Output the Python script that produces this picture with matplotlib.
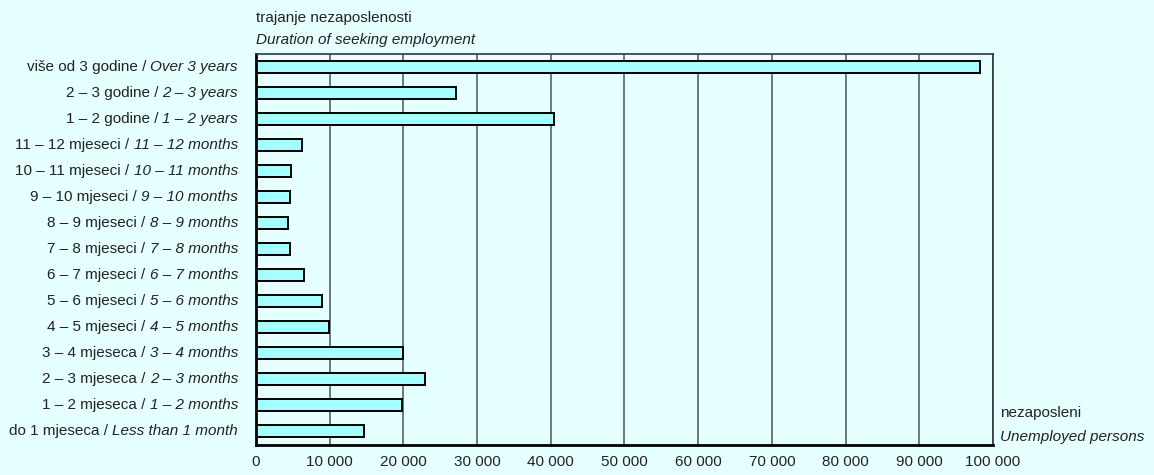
import matplotlib
matplotlib.use('Agg')
import matplotlib.pyplot as plt

# categories (top to bottom), Croatian / English
labels_hr = ['više od 3 godine', '2 – 3 godine', '1 – 2 godine',
             '11 – 12 mjeseci', '10 – 11 mjeseci', '9 – 10 mjeseci',
             '8 – 9 mjeseci', '7 – 8 mjeseci', '6 – 7 mjeseci',
             '5 – 6 mjeseci', '4 – 5 mjeseci', '3 – 4 mjeseca',
             '2 – 3 mjeseca', '1 – 2 mjeseca', 'do 1 mjeseca']
labels_en = ['Over 3 years', '2 – 3 years', '1 – 2 years',
             '11 – 12 months', '10 – 11 months', '9 – 10 months',
             '8 – 9 months', '7 – 8 months', '6 – 7 months',
             '5 – 6 months', '4 – 5 months', '3 – 4 months',
             '2 – 3 months', '1 – 2 months', 'Less than 1 month']
values = [98200, 27100, 40500, 6200, 4800, 4600, 4300, 4600, 6500,
          9000, 9850, 19900, 22900, 19850, 14700]
xticks = list(range(0, 100001, 10000))
xtick_labels = ['0'] + [f'{t // 1000} 000' for t in xticks[1:]]

BG = '#e6ffff'
FS = 11
plt.rcParams['font.family'] = ['Liberation Sans Narrow', 'Liberation Sans', 'DejaVu Sans']

fig = plt.figure(figsize=(11.54, 4.75), dpi=100, facecolor=BG)
ax = fig.add_axes([0.2218, 0.0632, 0.6387, 0.8229])
ax.set_facecolor(BG)

n = len(values)
ypos = list(range(n - 1, -1, -1))
ax.barh(ypos, values, height=0.49, color='#a6ffff', edgecolor='black',
        linewidth=1.4, zorder=3)

ax.set_xlim(0, 100000)
ax.set_ylim(-0.54, n - 0.5)
ax.set_xticks(xticks)
ax.set_xticklabels(xtick_labels, fontsize=FS, color='#222222')
ax.tick_params(axis='x', length=0, pad=7)
ax.set_yticks([])
ax.grid(axis='x', color='#607070', linewidth=1.3, zorder=1)

for s in ['left', 'bottom']:
    ax.spines[s].set_linewidth(2)
    ax.spines[s].set_color('black')
for s in ['top', 'right']:
    ax.spines[s].set_linewidth(1.2)
    ax.spines[s].set_color('#333333')
for sp in ax.spines.values():
    sp.set_zorder(4)

fig.canvas.draw()
renderer = fig.canvas.get_renderer()
inv = fig.transFigure.inverted()
label_x = 238 / 1154
for y, hr, en in zip(ypos, labels_hr, labels_en):
    yf = inv.transform(ax.transData.transform((0, y)))[1]
    t_en = fig.text(label_x, yf, en, ha='right', va='center',
                    fontsize=FS, style='italic', color='#222222')
    bb = t_en.get_window_extent(renderer)
    x_left = bb.x0 / fig.bbox.width
    fig.text(x_left, yf, hr + ' / ', ha='right', va='center',
             fontsize=FS, color='#222222')

fig.text(256 / 1154, 1 - 18 / 475, 'trajanje nezaposlenosti', ha='left',
         va='center', fontsize=FS, color='#222222')
fig.text(256 / 1154, 1 - 40 / 475, 'Duration of seeking employment',
         ha='left', va='center', fontsize=FS, style='italic',
         color='#222222')
fig.text(1000 / 1154, 1 - 413 / 475, 'nezaposleni', ha='left', va='center',
         fontsize=FS, color='#222222')
fig.text(1000 / 1154, 1 - 437 / 475, 'Unemployed persons', ha='left',
         va='center', fontsize=FS, style='italic', color='#222222')

fig.savefig('out.png', dpi=100, facecolor=BG)
